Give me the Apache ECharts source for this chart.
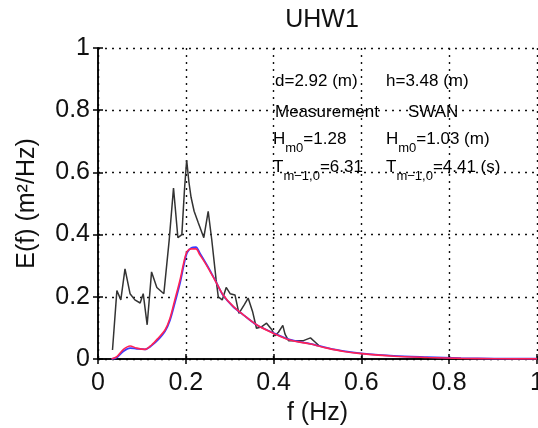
<!DOCTYPE html>
<html><head><meta charset="utf-8">
<script src="https://cdn.jsdelivr.net/npm/echarts@6/dist/echarts.min.js"></script>
<style>html,body{margin:0;padding:0;background:#fff}#c{width:538px;height:428px}</style>
</head><body><div id="c"></div>
<script>
// Measurement spectrum
var measFreq = [0.033,0.043,0.052,0.0615,0.073,0.084,0.096,0.103,0.112,0.122,0.134,0.150,0.162,0.172,0.182,0.191,0.197,0.202,0.207,0.212,0.219,0.228,0.241,0.251,0.259,0.269,0.274,0.283,0.292,0.301,0.312,0.321,0.333,0.342,0.352,0.361,0.373,0.384,0.396,0.403,0.411,0.421,0.426,0.434,0.450,0.468,0.484,0.495,0.503];
var measE    = [0.029,0.22,0.19,0.29,0.21,0.19,0.18,0.21,0.11,0.28,0.23,0.21,0.38,0.55,0.39,0.40,0.545,0.64,0.57,0.52,0.475,0.44,0.39,0.475,0.385,0.255,0.20,0.19,0.23,0.21,0.206,0.147,0.174,0.196,0.153,0.099,0.104,0.115,0.094,0.075,0.086,0.108,0.08,0.059,0.059,0.059,0.068,0.054,0.043];
// SWAN spectra
var swanFreq = [0.031,0.043,0.058,0.073,0.088,0.107,0.122,0.137,0.153,0.164,0.175,0.187,0.196,0.203,0.213,0.223,0.232,0.244,0.255,0.270,0.285,0.308,0.331,0.361,0.399,0.437,0.484,0.522,0.56,0.594,0.674,0.751,0.827,0.904,1.0];
var swanRed  = [0.0,0.008,0.031,0.042,0.035,0.031,0.045,0.067,0.094,0.131,0.19,0.255,0.314,0.346,0.354,0.354,0.335,0.309,0.282,0.244,0.206,0.169,0.142,0.11,0.083,0.061,0.048,0.035,0.024,0.018,0.009,0.005,0.002,0.0008,0.0004];
var swanBlue = [0.0,0.005,0.025,0.035,0.033,0.031,0.043,0.062,0.09,0.125,0.18,0.245,0.305,0.342,0.358,0.36,0.34,0.312,0.285,0.245,0.205,0.168,0.142,0.11,0.084,0.062,0.049,0.036,0.025,0.019,0.010,0.006,0.003,0.0015,0.001];
var xTicks = [0,0.2,0.4,0.6,0.8,1];
var yTicks = [0,0.2,0.4,0.6,0.8,1];

function pairs(xs, ys){ return xs.map(function(x,i){ return [x, ys[i]]; }); }
function fmt(v){ return String(Math.round(v*10)/10); }

var FONT = 'Liberation Sans';
var chart = echarts.init(document.getElementById('c'), null, {renderer:'canvas'});
var gridLine = {show:true, lineStyle:{color:'#111', width:1.4, type:[2,5]}};
var ann = {n:{fontSize:17, fontFamily:FONT, color:'#1a1a1a', verticalAlign:'middle', lineHeight:30},
           s:{fontSize:13, fontFamily:FONT, color:'#1a1a1a', verticalAlign:'bottom', lineHeight:12}};
function annText(x, y, t){ return {type:'text', left:x, top:y, z:100, style:{text:t, rich:ann, font:'17px '+FONT}}; }

chart.setOption({
  animation:false,
  backgroundColor:'#fff',
  title:{text:'UHW1', left:317, top:3, textAlign:'center',
    textStyle:{fontFamily:FONT, fontSize:25, fontWeight:'normal', color:'#111'}},
  grid:{left:98, right:1, top:48, bottom:69, containLabel:false, outerBoundsMode:'none'},
  xAxis:[{type:'value', min:0, max:1, interval:0.2, position:'bottom',
    name:'f (Hz)', nameLocation:'middle', nameGap:38,
    nameTextStyle:{fontFamily:FONT, fontSize:25, color:'#111'},
    axisLine:{show:true, lineStyle:{color:'#000', width:1.5}},
    axisTick:{show:true, inside:true, length:5, lineStyle:{color:'#000', width:1.5}},
    axisLabel:{show:true, margin:12, fontFamily:FONT, fontSize:25, color:'#111', formatter:fmt, hideOverlap:false},
    splitLine:gridLine},
   {type:'value', min:0, max:1, interval:0.2, position:'top',
    axisLine:{show:true, lineStyle:{color:'#000', width:1.5}},
    axisTick:{show:true, inside:true, length:5, lineStyle:{color:'#000', width:1.5}},
    axisLabel:{show:false}, splitLine:{show:false}}],
  yAxis:[{type:'value', min:0, max:1, interval:0.2, position:'left',
    name:'E(f) (m²/Hz)', nameLocation:'middle', nameGap:58, nameRotate:90,
    nameTextStyle:{fontFamily:FONT, fontSize:25, color:'#111'},
    axisLine:{show:true, lineStyle:{color:'#000', width:1.5}},
    axisTick:{show:true, inside:true, length:5, lineStyle:{color:'#000', width:1.5}},
    axisLabel:{show:true, margin:8, fontFamily:FONT, fontSize:25, color:'#111', formatter:fmt},
    splitLine:gridLine},
   {type:'value', min:0, max:1, interval:0.2, position:'right',
    axisLine:{show:true, lineStyle:{color:'#000', width:1.5}},
    axisTick:{show:true, inside:true, length:5, lineStyle:{color:'#000', width:1.5}},
    axisLabel:{show:false}, splitLine:{show:false}}],
  series:[
    {type:'line', name:'Measurement', data:pairs(measFreq, measE), showSymbol:false,
     lineStyle:{color:'#333', width:1.5}, z:3},
    {type:'line', name:'SWAN blue', data:pairs(swanFreq, swanBlue), showSymbol:false, smooth:0.3,
     lineStyle:{color:'#3b3bff', width:1.8}, z:4},
    {type:'line', name:'SWAN red', data:pairs(swanFreq, swanRed), showSymbol:false, smooth:0.3,
     lineStyle:{color:'#ff2255', width:1.6}, z:5}
  ],
  graphic:[
    annText(275, 73, '{n|d=2.92 (m)}'),
    annText(386, 73, '{n|h=3.48 (m)}'),
    annText(275, 104, '{n|Measurement}'),
    annText(408, 104, '{n|SWAN}'),
    annText(273, 131, '{n|H}{s|m0}{n|=1.28}'),
    annText(386, 131, '{n|H}{s|m0}{n|=1.03 (m)}'),
    annText(273, 159, '{n|T}{s|m−1,0}{n|=6.31}'),
    annText(386, 159, '{n|T}{s|m−1,0}{n|=4.41 (s)}')
  ]
});
</script></body></html>
